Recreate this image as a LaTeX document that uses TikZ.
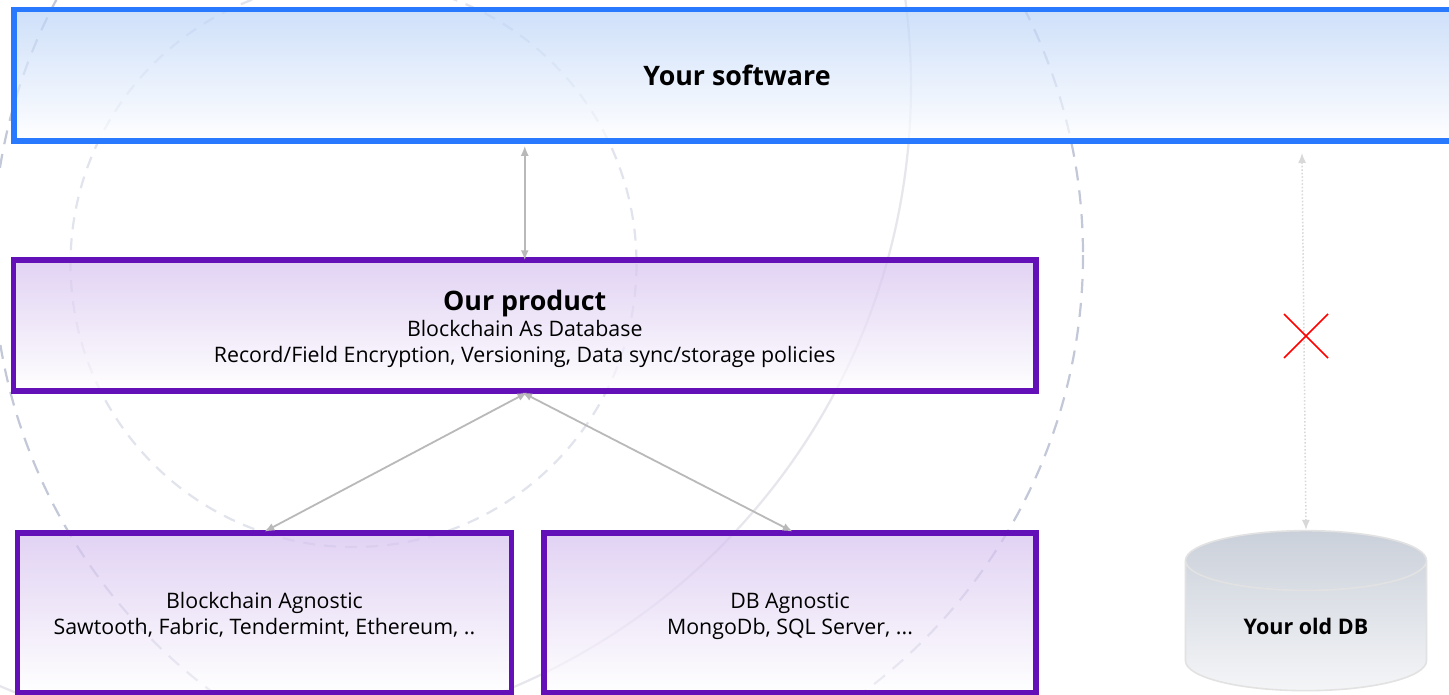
\documentclass[tikz,border=0pt]{standalone}
\usepackage{fontspec}
\setmainfont{Open Sans}
\usetikzlibrary{shapes.geometric,shapes.misc,arrows.meta}
\definecolor{blueline}{HTML}{2979FF}
\definecolor{purpleline}{HTML}{6410B8}
\definecolor{bluetop}{RGB}{186,211,248}
\definecolor{purpletop}{RGB}{213,192,239}
\definecolor{ringdark}{HTML}{C3C8D8}
\definecolor{ringlight}{HTML}{E1E4EC}
\definecolor{ringsolid}{HTML}{E6E6EC}
\definecolor{linkgrey}{HTML}{B9B9B9}
\definecolor{dotgrey}{HTML}{D8D8D8}
\definecolor{dbtop}{HTML}{CAD0DA}
\definecolor{dbbottom}{HTML}{F4F5F7}
\definecolor{dbline}{HTML}{E2E2E2}
\tikzset{
  x=1pt,y=-1pt,
  basebox/.style={rectangle,line width=5.5pt,fill opacity=0.7,draw opacity=1,text opacity=1,align=center,inner sep=0pt,bottom color=white,shading angle=0},
  softwarebox/.style={basebox,draw=blueline,top color=bluetop},
  productbox/.style={basebox,draw=purpleline,top color=purpletop},
  bodytext/.style={font=\fontsize{21.35}{26}\selectfont},
  titletext/.style={font=\fontsize{26.8}{30}\selectfont\bfseries},
  link/.style={draw=linkgrey,line width=1.8pt,shorten <=-3pt,shorten >=-3pt,{Latex[length=10pt,width=8pt]}-{Latex[length=10pt,width=8pt]}},
  deadlink/.style={draw=dotgrey,line width=1.5pt,dotted,{Latex[length=10pt,width=8pt]}-{Latex[length=10pt,width=8pt]}},
  ringA/.style={draw=ringdark,line width=2.2pt,dash pattern=on 14pt off 10pt},
  ringB/.style={draw=ringlight,line width=2.2pt,dash pattern=on 12pt off 9pt},
  ringC/.style={draw=ringsolid,line width=2.2pt},
}
\newcommand{\topfill}[1]{\rule{0pt}{#1pt}}
\newcommand{\botfill}[1]{\rule[-#1pt]{0pt}{#1pt}}
\begin{document}
\begin{tikzpicture}
\clip (0,0) rectangle (1449,694);
\fill[white] (0,0) rectangle (1449,694);
% rings
\draw[ringC] (258,86) circle[radius=653];
\draw[ringA] (538,255) circle[radius=545];
\draw[ringB] (353.5,264) circle[radius=283];
% boxes
\node[softwarebox,minimum width=1446.5pt,minimum height=131.5pt,titletext] (soft) at (737,75.25) {Your software};
\node[productbox,minimum width=1022.5pt,minimum height=131pt,bodytext] (prod) at (524.75,325.5)
  {\topfill{28}{\fontsize{26.8}{30}\selectfont\bfseries Our product}\\Blockchain As Database\\Record/Field Encryption, Versioning, Data sync/storage policies\botfill{4}};
\node[productbox,minimum width=494pt,minimum height=160pt,bodytext] (chain) at (264.5,613) {\topfill{22}Blockchain Agnostic\\Sawtooth, Fabric, Tendermint, Ethereum, ..\botfill{6}};
\node[productbox,minimum width=492pt,minimum height=160pt,bodytext] (dbag) at (790,613) {\topfill{22}DB Agnostic\\MongoDb, SQL Server, ...\botfill{6}};
% cylinder
\node[shape=cylinder,shape border rotate=90,aspect=0.48,minimum width=241pt,minimum height=160pt,
  draw=dbline,line width=1.6pt,top color=dbtop,bottom color=dbbottom,shading angle=0,inner sep=0pt,
  font=\fontsize{21.5}{24}\selectfont\bfseries] (old) at (1306,626) {Your old DB};
% connectors
\draw[link,shorten <=2pt,shorten >=-3pt] (prod.north |- soft.south) -- (prod.north);
\draw[link] (prod.south) -- ([xshift=2.5pt]chain.north);
\draw[link] (prod.south) -- (dbag.north);
\coordinate (softend) at (1302,153);
\draw[deadlink] (softend) -- (old.top);
\node[cross out,draw=red,line width=1.6pt,minimum width=44pt,minimum height=44pt,inner sep=0pt,outer sep=0pt] (cross) at (1306,336) {};
\end{tikzpicture}
\end{document}
